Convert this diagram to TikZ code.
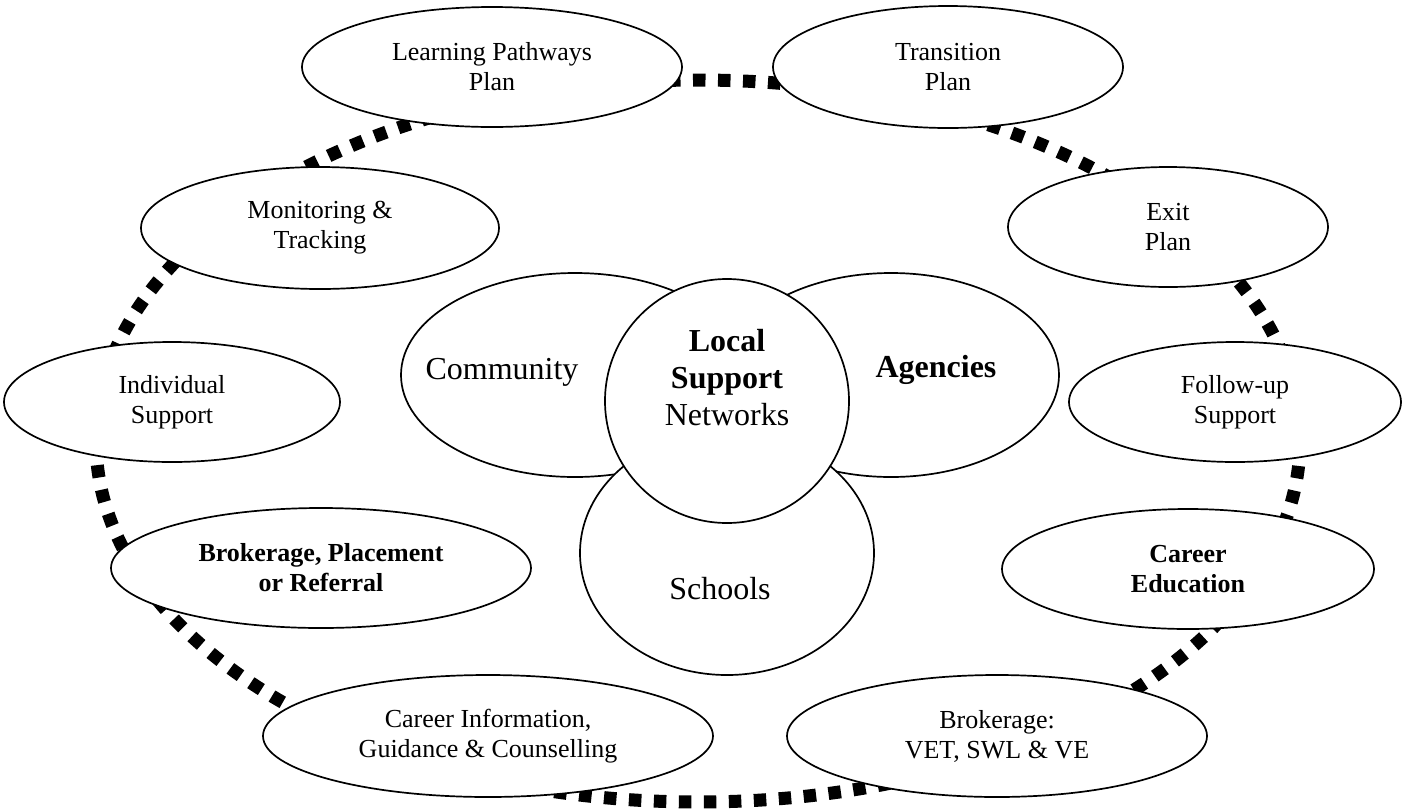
\documentclass[tikz,border=0pt]{standalone}
\usepackage{fontspec}
\setmainfont{Liberation Serif}
\usetikzlibrary{shapes.geometric}
\tikzset{
	stage/.style={ellipse, draw, fill=white, line width=0.85pt, inner sep=0pt, align=center, font=\fontsize{13}{15}\selectfont},
	boldstage/.style={stage, font=\fontsize{13}{15}\selectfont\bfseries},
	partner/.style={ellipse, draw, fill=white, line width=0.85pt, inner sep=0pt},
	partnerlabel/.style={font=\fontsize{16}{18.5}\selectfont, align=center, inner sep=0pt},
	ring/.style={draw, line width=6.5pt, dash pattern=on 6.25pt off 6.25pt}
}

\begin{document}
\begin{tikzpicture}[x=0.5pt, y=-0.5pt]
		\useasboundingbox (0,0) rectangle (1405,810);
		
		% --- Dotted ring behind the stages ---
		\coordinate (ringcentre) at (698,441);
		\draw[ring] (ringcentre) ellipse [x radius=602, y radius=361];
		
		% --- Outer stages, clockwise from the top ---
		\node[stage, minimum width=190pt, minimum height=60pt] (pathways) at (492,67) {Learning Pathways\\Plan};
		\node[stage, minimum width=175pt, minimum height=61pt] (transition) at (948,67) {Transition\\Plan};
		\node[stage, minimum width=160pt, minimum height=60pt] (exitplan) at (1168,227) {Exit\\Plan};
		\node[stage, minimum width=166pt, minimum height=60pt] (followup) at (1235,402) {Follow-up\\Support};
		\node[boldstage, minimum width=186pt, minimum height=60pt] (careered) at (1188,569) {Career\\Education};
		\node[stage, minimum width=210pt, minimum height=61pt] (brokvet) at (997,736) {Brokerage:\\VET, SWL \& VE};
		\node[stage, minimum width=225pt, minimum height=61pt] (careerinfo) at (488,736) {Career Information,\\Guidance \& Counselling};
		\node[boldstage, minimum width=210pt, minimum height=60pt] (brokplace) at (321,568) {Brokerage, Placement\\or Referral};
		\node[stage, minimum width=168pt, minimum height=60pt] (individual) at (172,402) {Individual\\Support};
		\node[stage, minimum width=179pt, minimum height=61pt] (monitoring) at (320,228) {Monitoring \&\\Tracking};
		
		% --- Partners round the hub ---
		\node[partner, minimum width=174pt, minimum height=102pt,
			label={[partnerlabel, xshift=-36.5pt, yshift=1.5pt]center:Community}] (community) at (575,375) {};
		\node[partner, minimum width=168pt, minimum height=102pt,
			label={[partnerlabel, xshift=22.5pt, yshift=2.5pt]center:\textbf{Agencies}}] (agencies) at (891,375) {};
		\node[partner, minimum width=147pt, minimum height=122pt,
			label={[partnerlabel, xshift=-3.5pt, yshift=-18pt]center:Schools}] (schools) at (727,553) {};
		
		% --- Hub ---
		\node[partner, circle, minimum size=122pt,
			label={[partnerlabel, yshift=11.5pt]center:\textbf{Local}\\\textbf{Support}\\Networks}] (hub) at (727,401) {};
		
	\end{tikzpicture}
\end{document}
